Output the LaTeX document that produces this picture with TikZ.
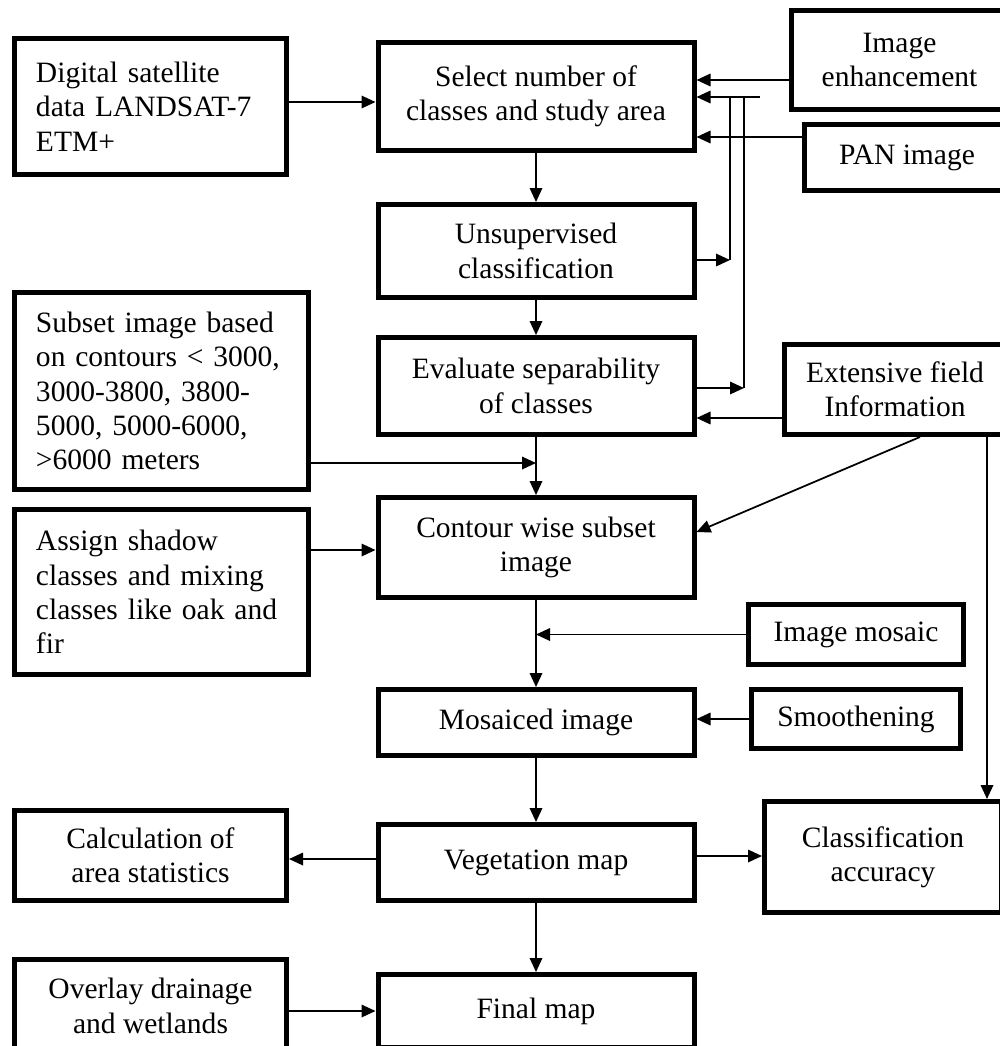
\documentclass[tikz,border=0pt]{standalone}
\usepackage{fontspec}
\setmainfont{Liberation Serif}
\usetikzlibrary{positioning, calc, arrows.meta}

\begin{document}
\begin{tikzpicture}[x=0.2mm, y=-0.2mm,
	box/.style={draw, line width=1mm, align=center, inner sep=0pt, font=\fontsize{16.8}{19.5}\selectfont},
	lbox/.style={box, align=left, inner xsep=4.3mm},
	arr/.style={line width=0.35mm, -{Triangle[length=2.8mm, width=2.5mm]}},
	ln/.style={line width=0.35mm}]
	\useasboundingbox (0, 0) rectangle (1000, 1046);
	% boxes
	\node[lbox, text width=45.8mm, minimum height=27.2mm] (dig) at (150.5, 106.5) {Digital satellite\\data LANDSAT-7\\ETM+};
	\node[box, minimum width=63.2mm, minimum height=21.6mm] (sel) at (536, 96.5) {Select number of\\classes and study area};
	\node[box, minimum width=43.2mm, minimum height=19.8mm] (enh) at (899.5, 60) {Image\\enhancement};
	\node[box, minimum width=41mm, minimum height=13.2mm] (pan) at (907, 157.5) {PAN image};
	\node[box, minimum width=63.2mm, minimum height=18.6mm] (uns) at (536, 251) {Unsupervised\\classification};
	\node[box, minimum width=63.2mm, minimum height=19.4mm] (eva) at (536, 386) {Evaluate separability\\of classes};
	\node[lbox, text width=50.2mm, minimum height=39.4mm] (sub) at (161.5, 391) {Subset image based\\on contours < 3000,\\3000-3800, 3800-\\5000, 5000-6000,\\>6000 meters};
	\node[box, minimum width=44.2mm, minimum height=18mm] (ext) at (895, 389.5) {Extensive field\\Information};
	\node[box, minimum width=63.2mm, minimum height=20mm] (con) at (536, 547.5) {Contour wise subset\\image};
	\node[lbox, text width=50.2mm, minimum height=33mm] (asg) at (161.5, 592) {Assign shadow\\classes and mixing\\classes like oak and\\fir};
	\node[box, minimum width=43mm, minimum height=12mm] (mos) at (856, 634.5) {Image mosaic};
	\node[box, minimum width=63.2mm, minimum height=13.2mm] (msd) at (536, 722.5) {Mosaiced image};
	\node[box, minimum width=41.8mm, minimum height=11.8mm] (smo) at (856, 719) {Smoothening};
	\node[box, minimum width=54.4mm, minimum height=18mm] (cal) at (150.5, 855.5) {Calculation of\\area statistics};
	\node[box, minimum width=63.2mm, minimum height=15.2mm] (veg) at (536, 862.5) {Vegetation map};
	\node[box, minimum width=47.4mm, minimum height=22.2mm] (cla) at (883, 857) {Classification\\accuracy};
	\node[box, minimum width=54.4mm, minimum height=18.6mm] (ovl) at (150.5, 1006) {Overlay drainage\\and wetlands};
	\node[box, minimum width=63.2mm, minimum height=14.6mm] (fin) at (536, 1011) {Final map};
	% main flow
	\draw[arr] (dig.east |- 0, 102) -- (sel.west |- 0, 102);
	\draw[arr] (sel) -- (uns);
	\draw[arr] (uns) -- (eva);
	\draw[arr] (eva) -- (con);
	\draw[arr] (con) -- (msd);
	\draw[arr] (msd) -- (veg);
	\draw[arr] (veg) -- (fin);
	\draw[arr] (enh.west |- 0, 80) -- (sel.east |- 0, 80);
	\draw[arr] (pan.west |- 0, 137) -- (sel.east |- 0, 137);
	% feedback lines
	\coordinate (fb) at (760, 97);
	\coordinate (fb1) at (730, 260);
	\coordinate (fb2) at (744, 388);
	\draw[arr] (fb) -- (sel.east |- fb);
	\draw[arr] (uns.east |- fb1) -- (fb1);
	\draw[ln] (fb1) -- (fb1 |- fb);
	\draw[arr] (eva.east |- fb2) -- (fb2);
	\draw[ln] (fb2) -- (fb2 |- fb);
	% side inputs
	\draw[arr] (ext.west |- 0, 418) -- (eva.east |- 0, 418);
	\draw[arr] (ext.south -| 920, 0) -- (con.east |- 0, 532);
	\draw[arr] (ext.south -| 987, 0) -- (cla.north -| 987, 0);
	\draw[arr] (sub.east |- 0, 463) -- (eva.south |- 0, 463);
	\draw[arr] (asg.east |- 0, 550) -- (con.west |- 0, 550);
	\draw[arr] (mos.west) -- (con.south |- mos.west);
	\draw[arr] (smo.west) -- (msd.east |- smo.west);
	\draw[arr] (veg.west |- 0, 859) -- (cal.east |- 0, 859);
	\draw[arr] (veg.east |- 0, 856) -- (cla.west |- 0, 856);
	\draw[arr] (ovl.east |- 0, 1011) -- (fin.west |- 0, 1011);
\end{tikzpicture}
\end{document}
